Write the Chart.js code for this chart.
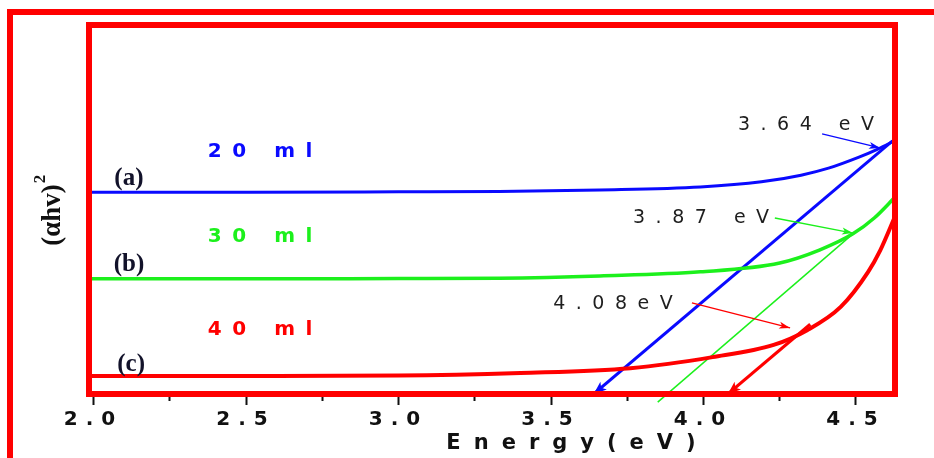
<!DOCTYPE html>
<html>
<head>
<meta charset="utf-8">
<script src="https://cdn.jsdelivr.net/npm/chart.js@4.4.1/dist/chart.umd.min.js"></script>
<style>
  html, body { margin: 0; padding: 0; background: #fff; }
  canvas { display: block; }
</style>
</head>
<body>
<canvas id="tauc" width="934" height="458"></canvas>
<script>
// Tauc plot, (alpha h v)^2 vs photon energy (eV), arbitrary units 0..100

// (a) 20 ml
const energyA = [1.98, 2.5, 3.0, 3.33, 3.66, 3.99, 4.19, 4.32, 4.41, 4.51, 4.57, 4.63];
const alphaA  = [54.7, 54.7, 54.8, 54.9, 55.3, 56.1, 57.5, 59.3, 61.2, 64.2, 66.3, 68.8];

// (b) 30 ml
const energyB = [1.98, 2.5, 3.0, 3.33, 3.66, 3.99, 4.25, 4.38, 4.49, 4.56, 4.63];
const alphaB  = [31.2, 31.2, 31.3, 31.4, 32.0, 33.1, 35.5, 39.0, 43.4, 47.7, 53.5];

// (c) 40 ml
const energyC = [1.98, 2.5, 3.0, 3.4, 3.76, 4.03, 4.23, 4.34, 4.45, 4.54, 4.58, 4.63];
const alphaC  = [4.9, 4.9, 5.0, 5.7, 7.0, 10.0, 13.3, 17.3, 23.6, 33.1, 39.0, 48.5];

// linear extrapolations to the energy axis (band gaps)
const fitAX = [3.64, 4.62];
const fitAY = [0, 68.6];
const fitBX = [3.85, 4.49];
const fitBY = [-2.2, 43.4];
const fitCX = [4.08, 4.35];
const fitCY = [0, 18.9];

// x axis ticks
const energyTicks = [2.0, 2.25, 2.5, 2.75, 3.0, 3.25, 3.5, 3.75, 4.0, 4.25, 4.5];

// series labels
const seriesNames  = ['20 ml', '30 ml', '40 ml'];
const seriesTags   = ['(a)', '(b)', '(c)'];
const nameX = [2.546, 2.546, 2.546];
const nameY = [65.6, 42.7, 17.5];
const tagX  = [2.116, 2.116, 2.123];
const tagY  = [58.4, 35.2, 8.1];

// band gap call-outs
const gapLabels = ['3.64 eV', '3.87 eV', '4.08eV'];
const gapLabelX = [4.336, 3.992, 3.703];
const gapLabelY = [72.9, 47.7, 24.5];
const gapFromX  = [4.389, 4.234, 3.962];
const gapFromY  = [70.5, 47.7, 24.7];
const gapToX    = [4.579, 4.490, 4.284];
const gapToY    = [66.7, 43.6, 17.9];

const BLUE = '#0a0aff';
const GREEN = '#1cf01c';
const RED = '#ff0000';
const colors = [BLUE, GREEN, RED];

function pts(xs, ys) {
  return xs.map((x, i) => ({ x: x, y: ys[i] }));
}

function spacedText(ctx, text, x, y, spacing) {
  ctx.letterSpacing = spacing + 'px';
  ctx.fillText(text, x + spacing / 2, y);
  ctx.letterSpacing = '0px';
}

function arrowHead(ctx, x1, y1, x2, y2, len, half, color) {
  const a = Math.atan2(y2 - y1, x2 - x1);
  ctx.save();
  ctx.fillStyle = color;
  ctx.translate(x2, y2);
  ctx.rotate(a);
  ctx.beginPath();
  ctx.moveTo(0, 0);
  ctx.lineTo(-len, -half);
  ctx.lineTo(-len * 0.75, 0);
  ctx.lineTo(-len, half);
  ctx.closePath();
  ctx.fill();
  ctx.restore();
}

const decorations = {
  id: 'decorations',
  beforeDraw(chart) {
    // tick labels are letter spaced in the original
    chart.ctx.letterSpacing = '8px';
  },
  beforeDatasetsDraw(chart) {
    chart.ctx.letterSpacing = '0px';
  },
  afterDraw(chart) {
    const ctx = chart.ctx;
    const xs = chart.scales.x, ys = chart.scales.y;
    const area = chart.chartArea;
    ctx.save();
    ctx.textAlign = 'center';
    ctx.textBaseline = 'middle';

    // arrow heads at the axis end of the extrapolated lines
    arrowHead(ctx, xs.getPixelForValue(fitAX[1]), ys.getPixelForValue(fitAY[1]),
      xs.getPixelForValue(fitAX[0]), ys.getPixelForValue(fitAY[0]), 13, 5, BLUE);
    arrowHead(ctx, xs.getPixelForValue(fitCX[1]), ys.getPixelForValue(fitCY[1]),
      xs.getPixelForValue(fitCX[0]), ys.getPixelForValue(fitCY[0]), 13, 5, RED);

    // call-out arrows
    for (let i = 0; i < gapLabels.length; i++) {
      const x1 = xs.getPixelForValue(gapFromX[i]), y1 = ys.getPixelForValue(gapFromY[i]);
      const x2 = xs.getPixelForValue(gapToX[i]), y2 = ys.getPixelForValue(gapToY[i]);
      ctx.strokeStyle = colors[i];
      ctx.lineWidth = 1.3;
      ctx.beginPath();
      ctx.moveTo(x1, y1);
      ctx.lineTo(x2, y2);
      ctx.stroke();
      arrowHead(ctx, x1, y1, x2, y2, 11, 3.5, colors[i]);

      ctx.fillStyle = '#1e1e1e';
      ctx.font = '19px "DejaVu Sans"';
      spacedText(ctx, gapLabels[i], xs.getPixelForValue(gapLabelX[i]), ys.getPixelForValue(gapLabelY[i]), 10.5);
    }

    // series names and tags
    for (let i = 0; i < seriesNames.length; i++) {
      ctx.fillStyle = colors[i];
      ctx.font = 'bold 20px "DejaVu Sans"';
      spacedText(ctx, seriesNames[i], xs.getPixelForValue(nameX[i]), ys.getPixelForValue(nameY[i]), 10.5);
      ctx.fillStyle = '#12122a';
      ctx.font = 'bold 25px "Liberation Serif"';
      ctx.fillText(seriesTags[i], xs.getPixelForValue(tagX[i]), ys.getPixelForValue(tagY[i]));
    }

    // plot frame
    ctx.strokeStyle = RED;
    ctx.lineWidth = 6;
    ctx.strokeRect(area.left, area.top, area.right - area.left, area.bottom - area.top);

    // outer figure border (top and left)
    ctx.beginPath();
    ctx.moveTo(10, 458);
    ctx.lineTo(10, 12);
    ctx.lineTo(934, 12);
    ctx.stroke();

    // axis titles
    ctx.fillStyle = '#111';
    ctx.font = 'bold 21px "DejaVu Sans"';
    spacedText(ctx, 'Energy(eV)', 571, 444, 13);

    ctx.translate(53, 210);
    ctx.rotate(-Math.PI / 2);
    ctx.font = 'bold 27px "Liberation Serif"';
    ctx.textAlign = 'left';
    const main = '(αhv)';
    const w = ctx.measureText(main).width;
    ctx.fillText(main, -(w + 10) / 2, 0);
    ctx.font = 'bold 17px "Liberation Serif"';
    ctx.fillText('2', -(w + 10) / 2 + w + 1, -12);
    ctx.restore();
  }
};

new Chart(document.getElementById('tauc'), {
  type: 'line',
  data: {
    datasets: [
      { data: pts(energyA, alphaA), borderColor: BLUE, borderWidth: 3, cubicInterpolationMode: 'monotone' },
      { data: pts(energyB, alphaB), borderColor: GREEN, borderWidth: 3.5, cubicInterpolationMode: 'monotone' },
      { data: pts(energyC, alphaC), borderColor: RED, borderWidth: 4, cubicInterpolationMode: 'monotone' },
      { data: pts(fitAX, fitAY), borderColor: BLUE, borderWidth: 3 },
      { data: pts(fitBX, fitBY), borderColor: GREEN, borderWidth: 1.5, clip: false },
      { data: pts(fitCX, fitCY), borderColor: RED, borderWidth: 3 }
    ]
  },
  options: {
    responsive: false,
    animation: false,
    devicePixelRatio: 1,
    layout: { padding: { top: 25, right: 39, left: 0, bottom: 0 } },
    elements: { point: { radius: 0 }, line: { fill: false } },
    plugins: { legend: { display: false }, tooltip: { enabled: false } },
    scales: {
      x: {
        type: 'linear',
        min: 1.985,
        max: 4.628,
        afterFit: s => { s.height = 64; },
        afterBuildTicks: s => { s.ticks = energyTicks.map(v => ({ value: v })); },
        border: { display: false },
        grid: {
          drawOnChartArea: false,
          drawTicks: true,
          tickLength: 11,
          tickColor: '#111',
          tickWidth: 2,
          tickBorderDash: ctx => (Math.round(ctx.tick.value * 100) % 50 === 0 ? [] : [7, 20])
        },
        ticks: {
          padding: 3,
          color: '#111',
          font: { family: '"DejaVu Sans"', size: 20, weight: 'bold' },
          maxRotation: 0,
          autoSkip: false,
          callback: v => (Math.round(v * 100) % 50 === 0 ? v.toFixed(1) : '')
        }
      },
      y: {
        type: 'linear',
        min: 0,
        max: 100,
        afterFit: s => { s.width = 89; },
        border: { display: false },
        grid: { display: false },
        ticks: { display: false }
      }
    }
  },
  plugins: [decorations]
});
</script>
</body>
</html>
